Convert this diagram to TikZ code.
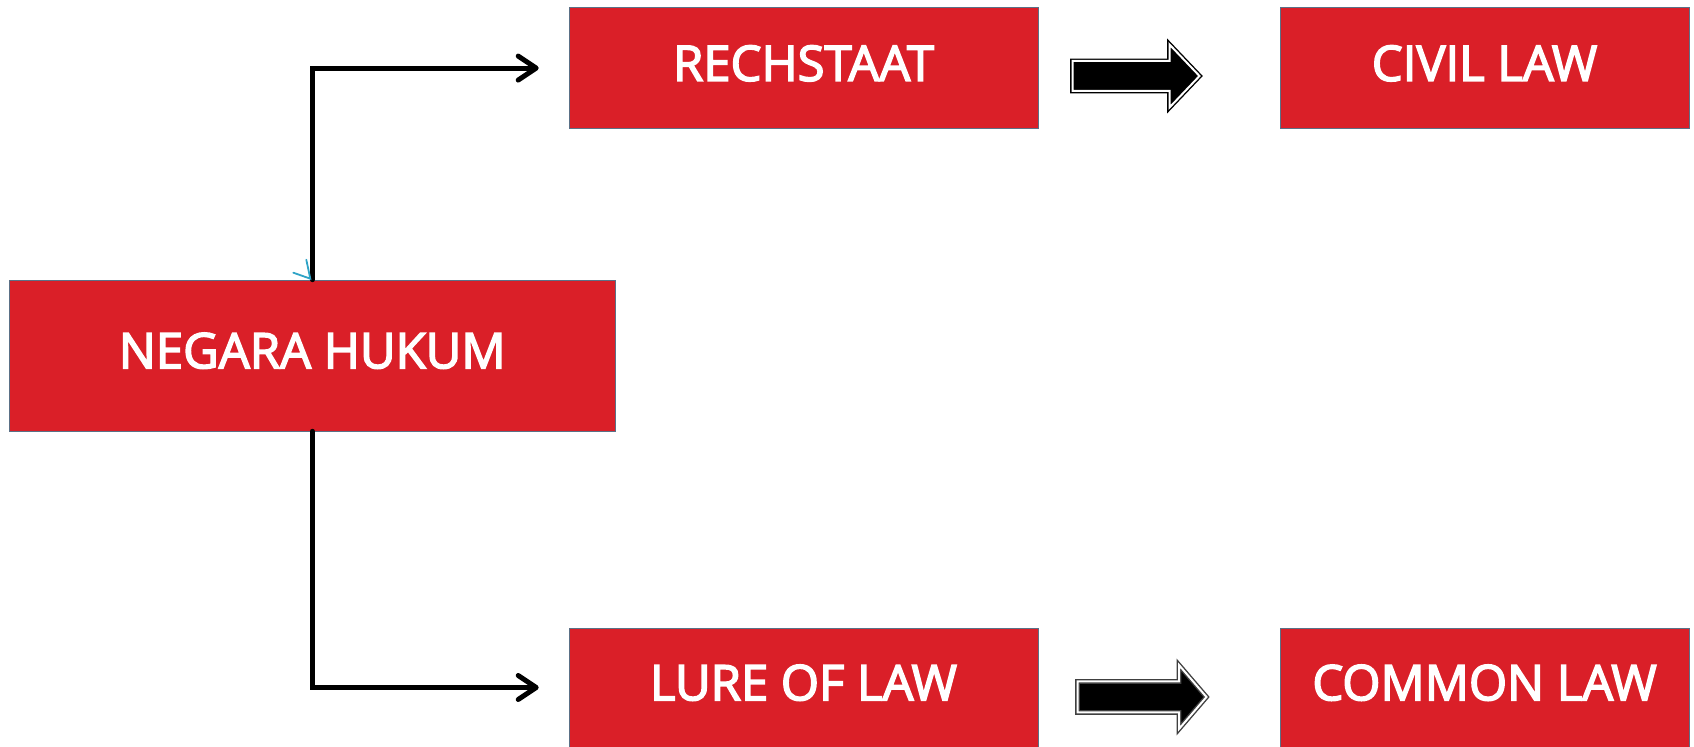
\documentclass[tikz,border=0pt]{standalone}
\usepackage{fontspec}
\setmainfont{Open Sans}
\newfontfamily\boxfont[FakeBold=3.2]{Open Sans}
\usetikzlibrary{arrows.meta,calc}
\definecolor{boxred}{HTML}{DA1F28}
\definecolor{boxedge}{HTML}{5B7086}
\definecolor{tipteal}{HTML}{2FA3C6}
\begin{document}
\begin{tikzpicture}[x=0.5pt,y=-0.5pt,
  lawbox/.style={rectangle, fill=boxred, draw=boxedge, line width=0.3pt,
    text=white, inner sep=0pt, text depth=5pt,
    font=\boxfont\fontsize{24.5}{30}\selectfont},
  link/.style={line width=2.5pt, line cap=round,
    -{Straight Barb[length=9pt,width=12pt,line cap=round,line join=round]},
    shorten >=15pt},
  blockarrow/.style={fill=black, draw=black, double=white,
    double distance=1pt, line width=0.7pt, line join=miter},
  softarrow/.style={blockarrow, draw=black!75}
]
\useasboundingbox (0,0) rectangle (1694,747);

% the five boxes
\node[lawbox, minimum width=302.6pt, minimum height=75.5pt] (negara) at (312.3,355.5) {NEGARA HUKUM};
\node[lawbox, minimum width=234.5pt, minimum height=60.5pt] (rech)   at (803.5,68.1)  {RECHSTAAT};
\node[lawbox, minimum width=204.5pt, minimum height=60.5pt] (civil)  at (1484.5,68.1) {CIVIL LAW};
\node[lawbox, minimum width=234.5pt, minimum height=59.5pt] (lure)   at (803.5,687.5) {LURE OF LAW};
\node[lawbox, minimum width=204.5pt, minimum height=59.5pt] (common) at (1484.5,687.5) {COMMON LAW};

% elbow connectors from the root box
\draw[link] (negara.north) |- (rech.west);
\draw[link] (negara.south) |- (lure.west);

% small teal tip on top of the root box
\coordinate (tealtip) at ($(negara.north)+(-2,-1)$);
\draw[tipteal, line width=0.9pt, line cap=round]
  ($(tealtip)+(-4,-19)$) -- (tealtip) -- ($(tealtip)+(-17,-6)$);

% block arrows between the columns
\begin{scope}[shift={(1072.5,76)}]
  \draw[blockarrow] (0,-15) -- (97,-15) -- (97,-31.5) -- (127,0)
    -- (97,31.5) -- (97,15) -- (0,15) -- cycle;
\end{scope}
\begin{scope}[shift={(1077.5,697)}]
  \draw[softarrow] (0,-15.5) -- (101.5,-15.5) -- (101.5,-32) -- (129,0)
    -- (101.5,32) -- (101.5,15.5) -- (0,15.5) -- cycle;
\end{scope}
\end{tikzpicture}
\end{document}
